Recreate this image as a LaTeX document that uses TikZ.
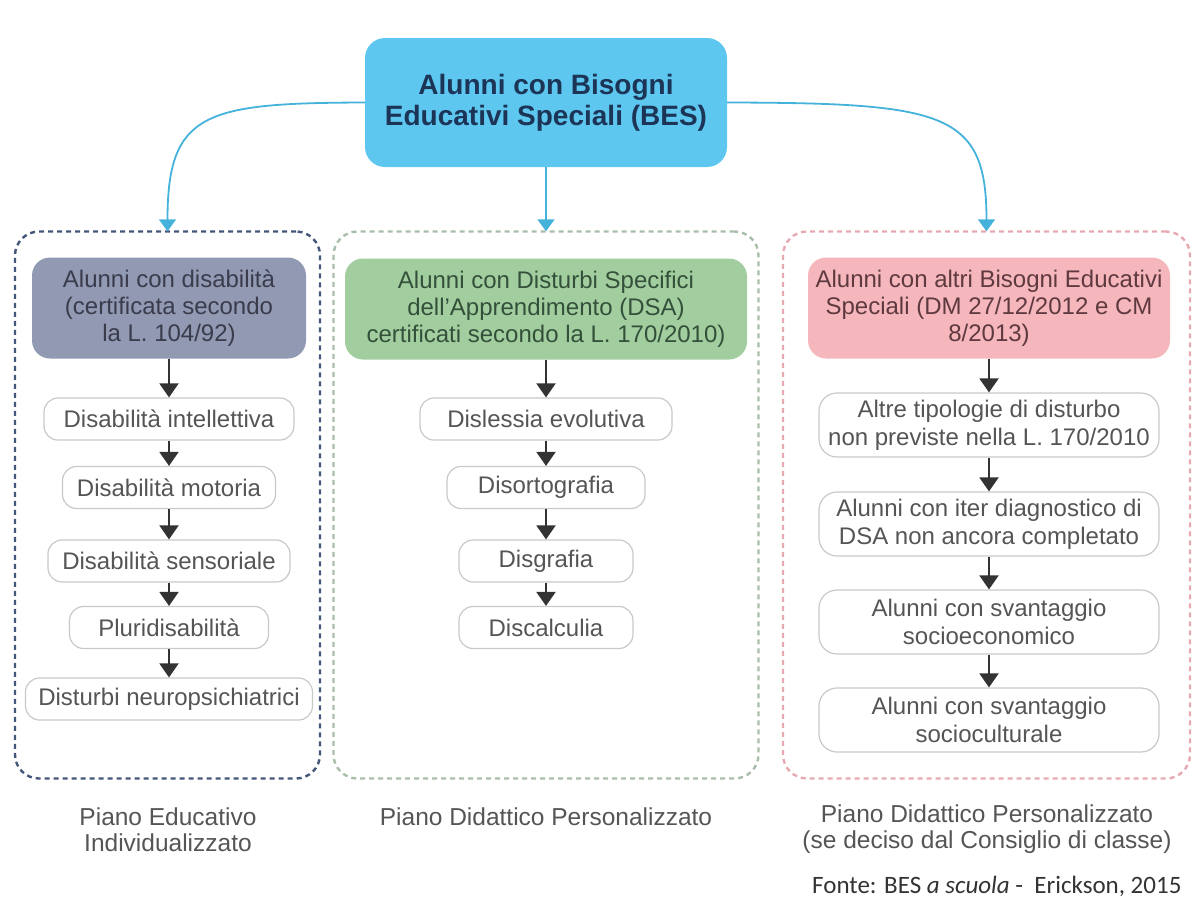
\documentclass[tikz,border=0pt]{standalone}
\usepackage{fontspec}
\setmainfont{Liberation Sans}
\newfontfamily\fontefont{Carlito}
\usetikzlibrary{arrows.meta}
\definecolor{cyanfill}{HTML}{5EC7F0}
\definecolor{navy}{HTML}{1C3557}
\definecolor{cblue}{HTML}{45B2DC}
\definecolor{hLfill}{HTML}{9199B3}
\definecolor{hMfill}{HTML}{A2CE9F}
\definecolor{hRfill}{HTML}{F5B6BC}
\definecolor{hLtxt}{HTML}{3A3C4C}
\definecolor{hMtxt}{HTML}{34503A}
\definecolor{hRtxt}{HTML}{5E3A40}
\definecolor{fLcol}{HTML}{44567A}
\definecolor{fMcol}{HTML}{A9BEAA}
\definecolor{fRcol}{HTML}{E7A9B1}
\definecolor{itxt}{HTML}{555555}
\definecolor{ibord}{HTML}{C9C9C9}
\begin{document}
\begin{tikzpicture}[x=1pt,y=-1pt,
  titlebox/.style={fill=cyanfill, rounded corners=20pt, minimum width=362pt, minimum height=129pt,
    align=center, inner sep=0pt, text=navy, font=\fontsize{28}{31}\selectfont\bfseries},
  frame/.style={draw, dash pattern=on 5pt off 4pt, line width=2.4pt, rounded corners=24pt, inner sep=0pt},
  hdr/.style={rounded corners=18pt, minimum height=101pt, align=center, inner sep=0pt,
    font=\fontsize{24}{27}\selectfont},
  item/.style={draw=ibord, line width=1.2pt, fill=white, rounded corners=14pt, minimum height=42pt,
    inner sep=0pt, align=center, text=itxt, font=\fontsize{24}{28}\selectfont},
  ritem/.style={item, minimum width=340pt, minimum height=64pt, rounded corners=18pt},
  blk/.style={draw=black!80, line width=2pt, -{Triangle[width=19pt,length=14pt]}},
  blu/.style={draw=cblue, line width=1.8pt, -{Triangle[width=17pt,length=12pt]}, shorten >=-1pt},
  foot/.style={align=center, text=itxt, font=\fontsize{24.5}{26}\selectfont}
]
\useasboundingbox (0,0) rectangle (1194,908);

% title
\node[titlebox] (bes) at (546,102.5) {Alunni con Bisogni\\Educativi Speciali (BES)};

% frames
\node[frame, draw=fLcol, minimum width=305pt, minimum height=547pt] (fL) at (167.5,505) {};
\node[frame, draw=fMcol, minimum width=425pt, minimum height=547pt] (fM) at (546,505) {};
\node[frame, draw=fRcol, minimum width=407pt, minimum height=547pt] (fR) at (986.5,505) {};

% title connectors
\draw[blu] (bes.west) .. controls (205,103) and (167.5,112) .. (fL.north);
\draw[blu] (bes.south) -- (fM.north);
\draw[blu] (bes.east) .. controls (945,103) and (986.5,112) .. (fR.north);

% headers
\node[hdr, fill=hLfill, text=hLtxt, minimum width=274pt] (hL) at (169,308)
  {Alunni con disabilità\\(certificata secondo\\la L. 104/92)};
\node[hdr, fill=hMfill, text=hMtxt, minimum width=402pt] (hM) at (546,309)
  {Alunni con Disturbi Specifici\\dell’Apprendimento (DSA)\\certificati secondo la L. 170/2010)};
\node[hdr, fill=hRfill, text=hRtxt, minimum width=362pt] (hR) at (989,308)
  {Alunni con altri Bisogni Educativi\\Speciali (DM 27/12/2012 e CM\\8/2013)};

% left column
\node[item, minimum width=250pt] (l1) at (169,419) {Disabilità intellettiva};
\node[item, minimum width=213pt] (l2) at (169,487.5) {Disabilità motoria};
\node[item, minimum width=242pt] (l3) at (169,561) {Disabilità sensoriale};
\node[item, minimum width=199pt] (l4) at (169,627.5) {Pluridisabilità};
\node[item, minimum width=287pt] (l5) at (169,699) {Disturbi neuropsichiatrici};
\draw[blk] (hL) -- (l1);
\draw[blk] (l1) -- (l2);
\draw[blk] (l2) -- (l3);
\draw[blk] (l3) -- (l4);
\draw[blk] (l4) -- (l5);

% middle column
\node[item, minimum width=252pt] (m1) at (546,419) {Dislessia evolutiva};
\node[item, minimum width=198pt] (m2) at (546,487.5) {Disortografia};
\node[item, minimum width=174pt] (m3) at (546,561) {Disgrafia};
\node[item, minimum width=174pt] (m4) at (546,627.5) {Discalculia};
\draw[blk] (hM) -- (m1);
\draw[blk] (m1) -- (m2);
\draw[blk] (m2) -- (m3);
\draw[blk] (m3) -- (m4);

% right column
\node[ritem] (r1) at (989,425) {Altre tipologie di disturbo\\non previste nella L. 170/2010};
\node[ritem] (r2) at (989,524) {Alunni con iter diagnostico di\\DSA non ancora completato};
\node[ritem] (r3) at (989,622) {Alunni con svantaggio\\socioeconomico};
\node[ritem] (r4) at (989,720) {Alunni con svantaggio\\socioculturale};
\draw[blk] (hR) -- (r1);
\draw[blk] (r1) -- (r2);
\draw[blk] (r2) -- (r3);
\draw[blk] (r3) -- (r4);

% footers
\node[foot] (pL) at (168,830) {Piano Educativo\\Individualizzato};
\node[foot] (pM) at (546,817) {Piano Didattico Personalizzato};
\node[foot] (pR) at (987,829) {Piano Didattico Personalizzato\\(se deciso dal Consiglio di classe)};
\node[anchor=base west, inner sep=0pt, text=black!80, font=\fontefont\fontsize{25}{30}\selectfont] (src) at (812,893)
  {Fonte: BES \textit{a scuola} -\ \ Erickson, 2015};
\end{tikzpicture}
\end{document}
